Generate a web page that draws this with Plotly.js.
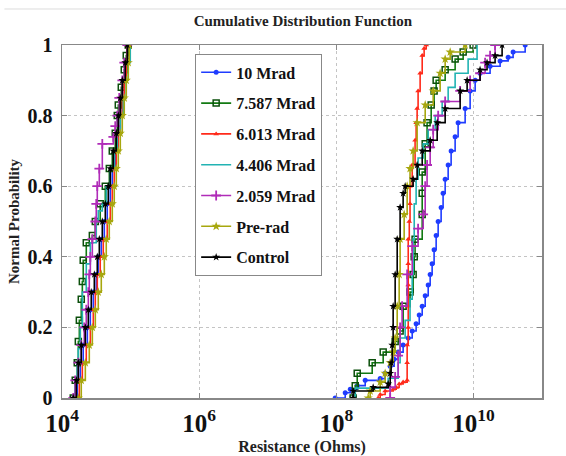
<!DOCTYPE html>
<html>
<head>
<meta charset="utf-8">
<script src="https://cdn.plot.ly/plotly-3.0.1.min.js"></script>
<style>html,body{margin:0;padding:0;background:#fff;}#chart{width:566px;height:456px;}</style>
</head>
<body>
<div id="chart"></div>
<script>
// Series names (legend order)
const seriesNames = ["10 Mrad", "7.587 Mrad", "6.013 Mrad", "4.406 Mrad", "2.059 Mrad", "Pre-rad", "Control"];

// ---- Low-resistance group (Ohms) and cumulative probability ----
const mrad10_lowR = [1.51e4,1.67e4,1.85e4,2.04e4,2.34e4,2.59e4,2.86e4,3.16e4,3.38e4,3.74e4,4.14e4,4.57e4,5.06e4,5.41e4,5.98e4,6.40e4,7.08e4,7.57e4,8.09e4,8.65e4,8.95e4];
const mrad10_lowP = [0,0.05,0.1,0.15,0.2,0.25,0.3,0.35,0.4,0.45,0.5,0.55,0.6,0.65,0.7,0.75,0.8,0.85,0.9,0.95,1];
const mrad7587_lowR = [1.46e4,1.56e4,1.67e4,1.73e4,1.79e4,1.91e4,1.98e4,2.04e4,2.26e4,2.77e4,3.06e4,3.61e4,4.28e4,4.90e4,5.41e4,5.98e4,6.40e4,6.62e4,7.32e4,8.09e4,8.65e4,9.25e4];
const mrad7587_lowP = [0,0.05,0.1,0.16,0.22,0.28,0.33,0.39,0.44,0.46,0.5,0.55,0.6,0.65,0.7,0.75,0.8,0.83,0.88,0.93,0.97,1];
const mrad6013_lowR = [1.67e4,1.79e4,1.98e4,2.26e4,2.59e4,2.86e4,3.06e4,3.27e4,3.61e4,4.00e4,4.57e4,5.06e4,5.41e4,5.78e4,6.19e4,6.62e4,7.08e4,7.57e4,8.09e4,8.65e4,8.95e4];
const mrad6013_lowP = [0,0.05,0.1,0.15,0.2,0.25,0.3,0.35,0.4,0.45,0.5,0.55,0.6,0.65,0.7,0.75,0.8,0.85,0.9,0.95,1];
const mrad4406_lowR = [1.46e4,1.56e4,1.67e4,1.73e4,1.85e4,1.98e4,2.26e4,2.59e4,3.16e4,3.38e4,3.87e4,4.42e4,5.06e4,5.78e4,6.40e4,7.08e4,7.83e4,8.65e4,9.25e4,9.90e4];
const mrad4406_lowP = [0,0.05,0.1,0.14,0.2,0.3,0.38,0.44,0.5,0.53,0.55,0.6,0.65,0.7,0.75,0.8,0.85,0.9,0.95,1];
const mrad2059_lowR = [1.46e4,1.56e4,1.73e4,1.91e4,2.11e4,2.26e4,2.42e4,2.50e4,2.59e4,2.77e4,3.06e4,3.16e4,3.27e4,3.50e4,3.87e4,5.60e4,5.98e4,6.40e4,6.84e4,7.57e4,8.09e4,8.95e4];
const mrad2059_lowP = [0,0.05,0.1,0.15,0.2,0.25,0.3,0.35,0.4,0.45,0.5,0.55,0.6,0.65,0.72,0.74,0.77,0.8,0.85,0.9,0.95,1];
const prerad_lowR = [1.73e4,1.91e4,2.19e4,2.50e4,2.77e4,3.06e4,3.38e4,3.74e4,4.14e4,4.42e4,4.89e4,5.41e4,5.78e4,6.19e4,6.62e4,7.08e4,7.57e4,8.09e4,8.65e4,9.25e4,9.57e4];
const prerad_lowP = [0,0.05,0.1,0.15,0.2,0.25,0.3,0.35,0.4,0.45,0.5,0.55,0.6,0.65,0.7,0.75,0.8,0.85,0.9,0.95,1];
const control_lowR = [1.46e4,1.62e4,1.73e4,1.91e4,2.19e4,2.42e4,2.67e4,2.96e4,3.27e4,3.50e4,3.87e4,4.28e4,4.73e4,5.06e4,5.60e4,6.19e4,6.62e4,7.08e4,7.57e4,8.37e4,8.95e4];
const control_lowP = [0,0.05,0.1,0.15,0.2,0.25,0.3,0.35,0.4,0.45,0.5,0.55,0.6,0.65,0.7,0.75,0.8,0.85,0.9,0.95,1];

// ---- High-resistance group (Ohms) and cumulative probability ----
const mrad10_highR = [9.64e7,1.35e8,1.60e8,2.02e8,2.64e8,4.37e8,5.16e8,6.11e8,6.98e8,7.98e8,9.44e8,1.12e9,1.28e9,1.46e9,1.62e9,1.79e9,1.98e9,2.19e9,2.34e9,2.50e9,2.67e9,2.86e9,3.06e9,3.38e9,3.61e9,3.87e9,4.28e9,4.73e9,5.41e9,5.98e9,7.57e9,8.95e9,1.06e10,1.25e10,1.75e10,2.45e10,3.21e10,3.79e10,5.68e10];
const mrad10_highP = [0,0.015,0.025,0.035,0.05,0.055,0.07,0.09,0.11,0.13,0.15,0.17,0.19,0.21,0.235,0.26,0.29,0.32,0.35,0.38,0.42,0.46,0.5,0.54,0.58,0.62,0.66,0.7,0.74,0.78,0.82,0.87,0.9,0.92,0.94,0.955,0.965,0.98,1];
const mrad7587_highR = [1.76e8,1.89e8,2.02e8,3.34e8,4.83e8,7.22e8,8.53e8,9.44e8,1.19e9,1.32e9,1.37e9,1.41e9,1.79e9,1.79e9,1.79e9,1.98e9,2.11e9,2.42e9,2.67e9,2.86e9,3.87e9,5.41e9,7.08e9,9.90e9];
const mrad7587_highP = [0,0.035,0.07,0.1,0.13,0.16,0.19,0.26,0.3,0.35,0.4,0.45,0.52,0.58,0.64,0.72,0.78,0.83,0.87,0.9,0.93,0.96,0.98,1];
const mrad6013_highR = [4.08e8,4.37e8,5.16e8,6.75e8,7.47e8,8.26e8,9.44e8,1.08e9,1.08e9,1.08e9,1.12e9,1.12e9,1.12e9,1.12e9,1.12e9,1.16e9,1.19e9,1.19e9,1.28e9,1.41e9,1.46e9,1.51e9,1.56e9,1.67e9,1.79e9,1.91e9,2.05e9];
const mrad6013_highP = [0,0.01,0.02,0.025,0.03,0.04,0.045,0.05,0.1,0.15,0.2,0.26,0.32,0.38,0.45,0.5,0.55,0.6,0.66,0.73,0.78,0.82,0.87,0.92,0.97,0.99,1];
const mrad4406_highR = [1.89e8,1.89e8,5.71e8,7.98e8,8.53e8,1.01e9,1.19e9,1.28e9,1.32e9,1.37e9,1.46e9,1.56e9,1.85e9,2.19e9,2.77e9,3.50e9,4.28e9,5.41e9,8.37e9,1.13e10];
const mrad4406_highP = [0,0.028,0.056,0.1,0.17,0.22,0.28,0.35,0.45,0.55,0.62,0.68,0.72,0.76,0.8,0.84,0.88,0.92,0.96,1];
const mrad2059_highR = [6.11e8,6.11e8,7.22e8,7.98e8,8.53e8,9.12e8,1.08e9,1.28e9,1.56e9,1.85e9,1.98e9,2.11e9,2.34e9,2.59e9,3.06e9,3.87e9,6.40e9,8.95e9,1.25e10,1.48e10,1.75e10,2.07e10];
const mrad2059_highP = [0,0.03,0.06,0.12,0.2,0.26,0.35,0.43,0.48,0.52,0.6,0.66,0.71,0.76,0.8,0.84,0.87,0.9,0.92,0.95,0.97,1];
const prerad_highR = [2.92e8,3.12e8,4.37e8,5.16e8,6.11e8,6.75e8,7.22e8,7.73e8,8.26e8,8.53e8,9.77e8,1.08e9,1.19e9,1.32e9,1.51e9,1.98e9,2.59e9,3.27e9,3.87e9,4.58e9,7.57e9];
const prerad_highP = [0,0.02,0.045,0.07,0.1,0.13,0.17,0.26,0.35,0.45,0.52,0.6,0.65,0.7,0.78,0.83,0.87,0.92,0.96,0.98,1];
const control_highR = [1.76e8,1.76e8,3.45e8,5.71e8,6.11e8,6.31e8,6.53e8,6.75e8,6.75e8,7.22e8,7.73e8,8.53e8,9.44e8,1.01e9,1.32e9,1.51e9,1.79e9,2.34e9,2.96e9,3.87e9,6.40e9,8.09e9,1.25e10,1.58e10,2.07e10,2.62e10];
const control_highP = [0,0.02,0.03,0.04,0.07,0.1,0.15,0.2,0.26,0.35,0.45,0.54,0.58,0.6,0.62,0.66,0.7,0.73,0.78,0.82,0.87,0.9,0.93,0.95,0.97,1];

// Tick labels
const xTickVals = [1e4, 1e6, 1e8, 1e10];
const xTickText = ["10<sup>4</sup>", "10<sup>6</sup>", "10<sup>8</sup>", "10<sup>10</sup>"];

const styles = [
  {line: "#1f3cff", marker: {symbol: "circle", size: 5, color: "#1f3cff"}},
  {line: "#127a12", marker: {symbol: "square-open", size: 6, color: "#0b4f0b", line: {width: 1.5}}},
  {line: "#ff2a1a", marker: {symbol: "triangle-up", size: 5, color: "#ff2a1a"}},
  {line: "#22b3b3", marker: {size: 1, opacity: 0}},
  {line: "#b02cb8", marker: {symbol: "cross-thin-open", size: 7, color: "#b02cb8", line: {width: 1.8}}},
  {line: "#a7a70e", marker: {symbol: "star", size: 7, color: "#a7a70e"}},
  {line: "#000000", marker: {symbol: "star", size: 6, color: "#000000"}}
];

const lowData = [
  [mrad10_lowR, mrad10_lowP], [mrad7587_lowR, mrad7587_lowP], [mrad6013_lowR, mrad6013_lowP],
  [mrad4406_lowR, mrad4406_lowP], [mrad2059_lowR, mrad2059_lowP], [prerad_lowR, prerad_lowP],
  [control_lowR, control_lowP]
];
const highData = [
  [mrad10_highR, mrad10_highP], [mrad7587_highR, mrad7587_highP], [mrad6013_highR, mrad6013_highP],
  [mrad4406_highR, mrad4406_highP], [mrad2059_highR, mrad2059_highP], [prerad_highR, prerad_highP],
  [control_highR, control_highP]
];

const traces = [];
seriesNames.forEach((name, i) => {
  const st = styles[i];
  const mode = i === 3 ? "lines" : "lines+markers";
  [lowData[i], highData[i]].forEach((d, k) => {
    traces.push({
      type: "scatter", mode: mode, name: name, legendgroup: name,
      showlegend: k === 0,
      x: d[0], y: d[1],
      line: {color: st.line, width: 1.6, shape: "hv"},
      marker: st.marker
    });
  });
});

const serif = "Liberation Serif";
const layout = {
  width: 566, height: 456,
  margin: {l: 62, r: 24, t: 45, b: 58},
  paper_bgcolor: "#ffffff", plot_bgcolor: "#ffffff",
  showlegend: true,
  title: {text: "<b>Cumulative Distribution Function</b>", x: 0.535, xanchor: "center", y: 0.955, yanchor: "middle",
          font: {family: serif, size: 15, color: "#222"}},
  xaxis: {
    type: "log", range: [4, 11],
    tickvals: xTickVals, ticktext: xTickText,
    tickfont: {family: serif, size: 25, weight: "bold", color: "#111"},
    ticks: "inside", ticklen: 5, tickcolor: "#888",
    showline: true, linecolor: "#888", linewidth: 1.5, mirror: "ticks",
    showgrid: true, gridcolor: "#c4c4c4", griddash: "dot", gridwidth: 1,
    zeroline: false,
    ticklabelstandoff: 2,
    title: {text: "<b>Resistance (Ohms)</b>", font: {family: serif, size: 16, color: "#222"}, standoff: 6}
  },
  yaxis: {
    range: [0, 1], dtick: 0.2,
    tickfont: {family: serif, size: 20, weight: "bold", color: "#111"},
    ticks: "inside", ticklen: 5, tickcolor: "#888",
    showline: true, linecolor: "#888", linewidth: 1.5, mirror: "ticks",
    showgrid: true, gridcolor: "#c4c4c4", griddash: "dot", gridwidth: 1,
    zeroline: false,
    ticklabelstandoff: 4,
    title: {text: "<b>Normal Probability</b>", font: {family: serif, size: 15, color: "#222"}, standoff: 4}
  },
  legend: {
    x: 0.277, y: 0.974, xanchor: "left", yanchor: "top",
    bgcolor: "#ffffff", bordercolor: "#888", borderwidth: 1.2,
    font: {family: serif, size: 16, weight: "bold", color: "#111"},
    traceorder: "grouped", tracegroupgap: 7,
    itemwidth: 30
  },
  shapes: [{type: "line", xref: "paper", yref: "paper", x0: -0.12, x1: 1.05, y0: 1.102, y1: 1.102,
            line: {color: "#dddddd", width: 1}}]
};

Plotly.newPlot("chart", traces, layout, {displayModeBar: false, staticPlot: true});
</script>
</body>
</html>
